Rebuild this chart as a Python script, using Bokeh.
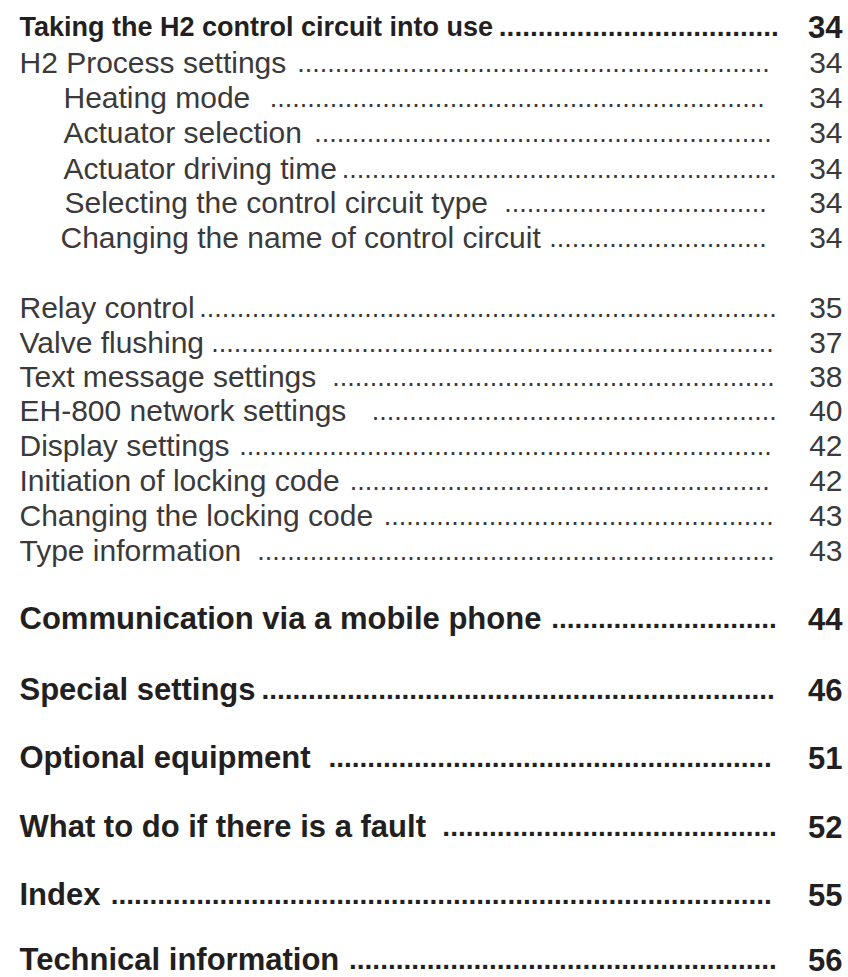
import numpy as np
from bokeh.plotting import figure
from bokeh.models import Range1d, ColumnDataSource
from bokeh.embed import file_html
from bokeh.resources import INLINE
from bokeh.core.properties import value

# ---------------- data ----------------
titles = [
    "Taking the H2 control circuit into use",
    "H2 Process settings",
    "Heating mode",
    "Actuator selection",
    "Actuator driving time",
    "Selecting the control circuit type",
    "Changing the name of control circuit",
    "Relay control",
    "Valve flushing",
    "Text message settings",
    "EH-800 network settings",
    "Display settings",
    "Initiation of locking code",
    "Changing the locking code",
    "Type information",
    "Communication via a mobile phone",
    "Special settings",
    "Optional equipment",
    "What to do if there is a fault",
    "Index",
    "Technical information",
]
pages = [34, 34, 34, 34, 34, 34, 34, 35, 37, 38, 40, 42, 42, 43, 43, 44, 46, 51, 52, 55, 56]
levels = [0, 1, 2, 2, 2, 2, 2, 1, 1, 1, 1, 1, 1, 1, 1, 0, 0, 0, 0, 0, 0]

# ---------------- layout (page pixel coordinates) ----------------
baseline = [36, 72, 107, 142, 178, 212, 247, 317, 352, 386, 420, 455, 490, 525, 560,
            628, 699, 767, 836, 904, 969]
Y_ADJ = -10  # compensates the renderer's baseline offset
text_x = [19, 19, 63, 63, 63, 64, 60, 19, 19, 19, 19, 19, 19, 19, 19,
          19, 19, 19, 19, 19, 19]
lead_x0 = [502, 300, 273, 317, 345, 504, 549, 202, 215, 335, 375, 242, 353, 387, 255,
           552, 265, 327, 441, 110, 348]
lead_x1 = [776, 767, 762, 769, 774, 764, 764, 774, 771, 772, 774, 769, 767, 771, 772,
           774, 772, 769, 774, 769, 774]
title_fs = [27 if i == 0 else (31 if lv == 0 else 30) for i, lv in enumerate(levels)]
PAGE_X = 842
BOLD_COLOR = "#231f20"
REG_COLOR = "#3b393a"
FONT = "Liberation Sans"

W, H = 848, 977
p = figure(width=W, height=H,
           x_range=Range1d(0, W), y_range=Range1d(H, 0),
           output_backend="svg", toolbar_location=None,
           x_axis_type=None, y_axis_type=None, min_border=0)
p.grid.visible = False
p.outline_line_color = None
p.background_fill_color = "white"
p.border_fill_color = "white"

ys = [b + Y_ADJ for b in baseline]
is_bold = [lv == 0 for lv in levels]
styles = ["bold" if b else "normal" for b in is_bold]
colors = [BOLD_COLOR if b else REG_COLOR for b in is_bold]

# titles
src_t = ColumnDataSource(dict(
    x=text_x, y=ys, text=titles,
    fs=[f"{s}px" for s in title_fs], st=styles, c=colors))
p.text(x="x", y="y", text="text", source=src_t,
       text_font=value(FONT), text_font_size="fs", text_font_style="st",
       text_color="c", text_align="left", text_baseline="alphabetic")

# page numbers
page_fs = ["31px" if b else "30px" for b in is_bold]
src_p = ColumnDataSource(dict(
    x=[PAGE_X] * len(pages), y=ys, text=[str(v) for v in pages],
    fs=page_fs, st=styles, c=colors))
p.text(x="x", y="y", text="text", source=src_p,
       text_font=value(FONT), text_font_size="fs", text_font_style="st",
       text_color="c", text_align="right", text_baseline="alphabetic")

# dot leaders
dot_txt, dot_x, dot_fs = [], [], []
for b, x0, x1 in zip(is_bold, lead_x0, lead_x1):
    fs = 28 if b else 27
    step = 0.278 * fs
    ink = 0.11 * fs
    n = int(round((x1 - x0 - ink) / step)) + 1
    dot_txt.append("." * n)
    dot_x.append(x1 + 0.085 * fs)
    dot_fs.append(f"{fs}px")
src_d = ColumnDataSource(dict(x=dot_x, y=ys, text=dot_txt,
                              fs=dot_fs, st=styles, c=colors))
p.text(x="x", y="y", text="text", source=src_d,
       text_font=value(FONT), text_font_size="fs", text_font_style="st",
       text_color="c", text_align="right", text_baseline="alphabetic")

open("out.html", "w").write(file_html(p, INLINE))
